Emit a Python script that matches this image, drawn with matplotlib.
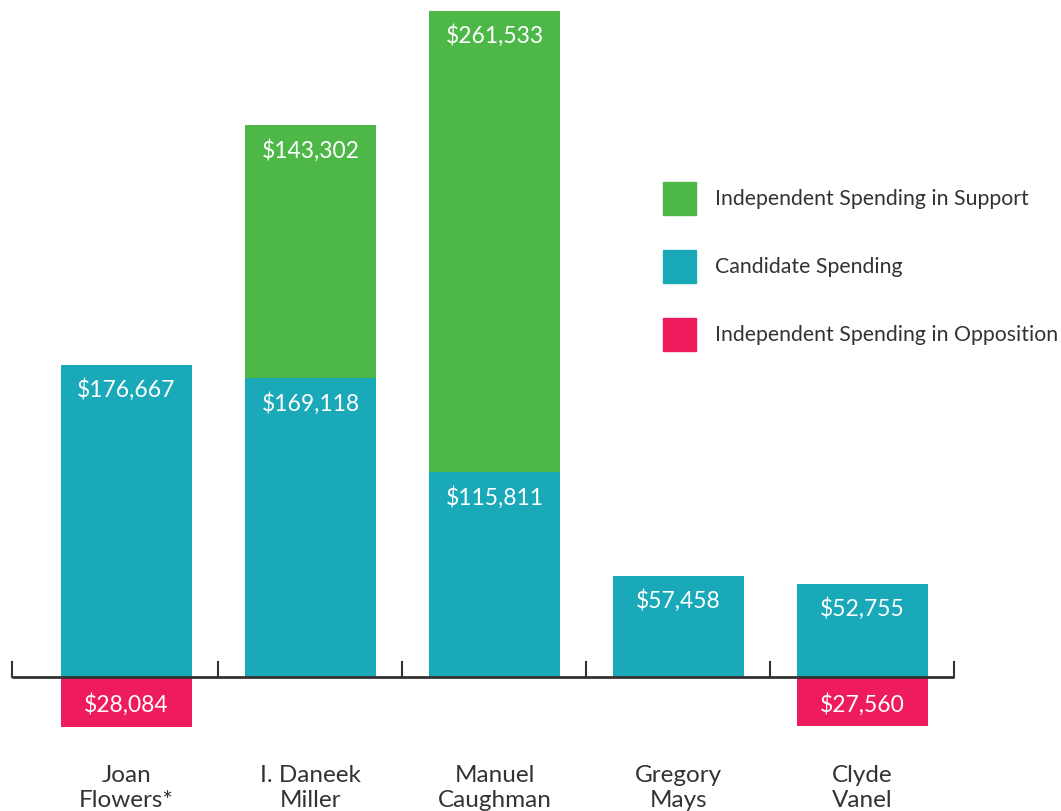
import numpy as np
import matplotlib.pyplot as plt

# candidate spending data
candidates = ['Joan\nFlowers*', 'I. Daneek\nMiller', 'Manuel\nCaughman', 'Gregory\nMays', 'Clyde\nVanel']
candidate_spending = [176667, 169118, 115811, 57458, 52755]
support = [0, 143302, 261533, 0, 0]
opposition = [28084, 0, 0, 0, 27560]

green = '#4db848'
teal = '#1aa9b8'
pink = '#ee1b5d'
dark = '#333333'

plt.rcParams['font.family'] = ['Lato', 'DejaVu Sans']

fig = plt.figure(figsize=(10.61, 8.12), dpi=100)
ax = fig.add_axes([0, 0, 1, 1])
ax.set_xlim(-0.6875, 5.079)
ax.set_ylim(-75870, 383900)
ax.axis('off')

x = np.arange(len(candidates))
w = 0.712
cand = np.array(candidate_spending)
sup = np.array(support)
opp = np.array(opposition)

ax.bar(x, cand, w, color=teal, label='Candidate Spending', zorder=2)
ax.bar(x, sup, w, bottom=cand, color=green, label='Independent Spending in Support', zorder=2)
ax.bar(x, -opp, w, color=pink, label='Independent Spending in Opposition', zorder=2)

# value labels near the top of each segment
off = 24 * 566.2
for i in range(len(x)):
    ax.text(x[i], cand[i] - off, '${:,}'.format(cand[i]), color='white',
            ha='center', va='center', fontsize=16.5, zorder=3)
    if sup[i] > 0:
        ax.text(x[i], cand[i] + sup[i] - off, '${:,}'.format(sup[i]), color='white',
                ha='center', va='center', fontsize=16.5, zorder=3)
    if opp[i] > 0:
        ax.text(x[i], -27 * 566.2, '${:,}'.format(opp[i]), color='white',
                ha='center', va='center', fontsize=16.5, zorder=3)
    ax.text(x[i], -110 * 566.2, candidates[i], color=dark, ha='center', va='center',
            fontsize=17.5, linespacing=1.22)

# baseline with ticks
ticks = [-0.622, 0.5, 1.5, 2.5, 3.5, 4.5]
ax.plot([ticks[0], ticks[-1]], [0, 0], color=dark, lw=2, zorder=4, solid_capstyle='butt')
for t in ticks:
    ax.plot([t, t], [0, 15 * 566.2], color=dark, lw=1.5, zorder=4)

# legend drawn manually
items = [('Independent Spending in Support', green, 199),
         ('Candidate Spending', teal, 267),
         ('Independent Spending in Opposition', pink, 335)]
for label, c, yc in items:
    fig.patches.append(plt.Rectangle((663 / 1061, 1 - (yc + 16.5) / 812), 33 / 1061, 33 / 812,
                                     transform=fig.transFigure, color=c))
    fig.text(715 / 1061, 1 - yc / 812, label, color=dark, fontsize=15.3, va='center', ha='left')

fig.savefig('out.png', dpi=100)
